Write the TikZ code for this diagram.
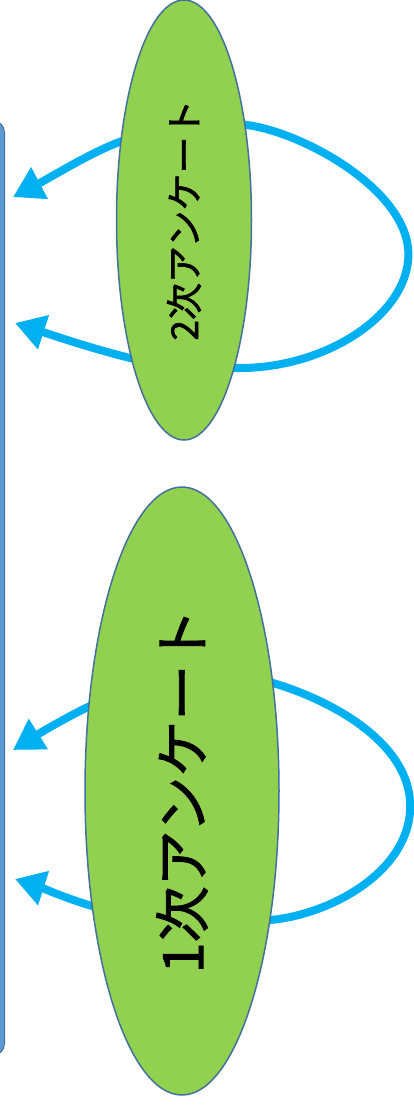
\documentclass[tikz,border=0pt]{standalone}
\usepackage{fontspec}
\newfontfamily\jpfont[FakeBold=1.6]{Noto Sans CJK JP}
\usepackage{xcolor}
\definecolor{surveygreen}{RGB}{146,208,80}
\definecolor{surveyedge}{RGB}{65,113,156}
\definecolor{panelblue}{RGB}{91,155,213}
\definecolor{loopblue}{RGB}{0,176,240}
\usetikzlibrary{shapes.geometric, arrows.meta}

\begin{document}
\begin{tikzpicture}[x=1pt, y=-1pt,
  survey/.style={ellipse, draw=surveyedge, line width=1.5pt, fill=surveygreen,
                 rotate=90, inner sep=0pt, align=center},
  panel/.style={rectangle, draw=surveyedge, line width=1pt, fill=panelblue,
                rounded corners=12pt, anchor=north east},
  arr/.style={{Triangle[length=30pt,width=34pt]}-{Triangle[length=30pt,width=34pt]},
              line width=8pt, loopblue}
]
\useasboundingbox (0,0) rectangle (413,1109);
\node[panel, minimum width=50pt, minimum height=935pt] (list) at (5,120) {};
% tips of the loops on the panel side
\coordinate (t2top) at (13,197);
\coordinate (t2bot) at (15,323);
\coordinate (t1top) at (13,750);
\coordinate (t1bot) at (15,879);
\draw[arr] (t2top) .. controls (55,175) and (95,150) .. (125,140)
  .. controls (170,125) and (215,120) .. (247,125)
  .. controls (300,132) and (400,185) .. (408,247)
  .. controls (415,310) and (330,368) .. (240,368)
  .. controls (200,368) and (160,365) .. (130,358)
  .. controls (90,348) and (55,336) .. (t2bot);
\draw[arr] (t1top) .. controls (40,733) and (65,718) .. (90,706)
  .. controls (150,680) and (230,670) .. (273,683)
  .. controls (330,700) and (405,740) .. (410,800)
  .. controls (415,870) and (330,915) .. (270,920)
  .. controls (200,925) and (130,915) .. (92,906)
  .. controls (65,898) and (40,887) .. (t1bot);
\node[survey, minimum width=440pt, minimum height=135pt,
      font=\jpfont\fontsize{37}{37}\selectfont] (second) at (184,220) {2次アンケート};
\node[survey, minimum width=608pt, minimum height=194pt,
      font=\jpfont\fontsize{56}{56}\selectfont] (first) at (182,791) {1次アンケート};
\end{tikzpicture}
\end{document}
